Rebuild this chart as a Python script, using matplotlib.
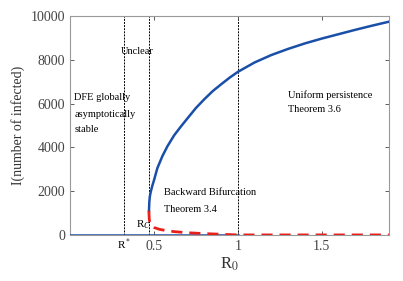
import matplotlib
matplotlib.use("Agg")
import matplotlib.pyplot as plt

plt.rcParams['font.family'] = ['Liberation Serif', 'DejaVu Serif']
plt.rcParams['mathtext.fontset'] = 'stix'

# Data
upper_R = [0.470, 0.472, 0.475, 0.48, 0.49, 0.50, 0.52, 0.55, 0.58, 0.62, 0.66, 0.70,
           0.75, 0.80, 0.85, 0.90, 0.95, 1.0, 1.1, 1.2, 1.3, 1.4, 1.5, 1.6, 1.7, 1.8, 1.9]
upper_I = [1100, 1500, 1750, 1950, 2250, 2500, 3050, 3600, 4050, 4550, 4950, 5330,
           5800, 6200, 6570, 6880, 7180, 7450, 7880, 8220, 8500, 8750, 8970, 9170, 9370, 9560, 9740]

lower_R = [0.470, 0.4705, 0.472, 0.476, 0.485, 0.50, 0.53, 0.57, 0.62, 0.7, 0.8, 0.9, 1.0, 1.9]
lower_I = [1100, 900, 700, 550, 430, 340, 260, 200, 150, 100, 60, 30, 0, 0]

dfe_R = [0.0, 1.0]
dfe_I = [0, 0]

vlines_R = [0.32, 0.47, 1.0]

xticks = [0.5, 1, 1.5]
xtick_labels = ['0.5', '1', '1.5']
yticks = [0, 2000, 4000, 6000, 8000, 10000]

fig = plt.figure(figsize=(4.03, 2.81), dpi=100)
ax = fig.add_axes([0.174, 0.164, 0.791, 0.779])

for v in vlines_R:
    ax.axvline(v, color='black', lw=0.7, ls=(0, (2, 1.2)), zorder=1)

blue = '#1a4fa8'
red = '#e8201c'
ax.plot(dfe_R, dfe_I, color=blue, lw=1.8, zorder=3)
ax.plot(upper_R, upper_I, color=blue, lw=1.8, zorder=3)
ax.plot(lower_R, lower_I, color=red, lw=2.0, ls=(0, (4, 2.5)), zorder=4)

ax.set_xlim(0, 1.9)
ax.set_ylim(0, 10000)
ax.set_xticks(xticks)
ax.set_xticklabels(xtick_labels)
ax.set_yticks(yticks)
ax.tick_params(direction='in', top=True, right=True, labelsize=10,
               colors='#444444', length=3, width=0.6)
for s in ax.spines.values():
    s.set_color('#999999')
    s.set_linewidth(0.8)

ax.set_ylabel('I(number of infected)', fontsize=10, color='#333333', labelpad=4)
ax.set_xlabel('R$_0$', fontsize=12, color='#333333', labelpad=2)

fs = 7.5
ax.text(0.30, 8400, 'Unclear', fontsize=fs, va='center', ha='left')
ax.text(0.024, 6260, 'DFE globally', fontsize=fs, va='center', ha='left')
ax.text(0.024, 5520, 'asymptotically', fontsize=fs, va='center', ha='left')
ax.text(0.024, 4800, 'stable', fontsize=fs, va='center', ha='left')
ax.text(1.30, 6390, 'Uniform persistence', fontsize=fs, va='center', ha='left')
ax.text(1.30, 5710, 'Theorem 3.6', fontsize=fs, va='center', ha='left')
ax.text(0.56, 1920, 'Backward Bifurcation', fontsize=fs, va='center', ha='left')
ax.text(0.56, 1140, 'Theorem 3.4', fontsize=fs, va='center', ha='left')
ax.text(0.395, 450, 'R$_C$', fontsize=8, va='center', ha='left')
ax.text(0.32, -420, 'R$^*$', fontsize=8, va='center', ha='center', clip_on=False)

fig.savefig('out.png', dpi=100)
